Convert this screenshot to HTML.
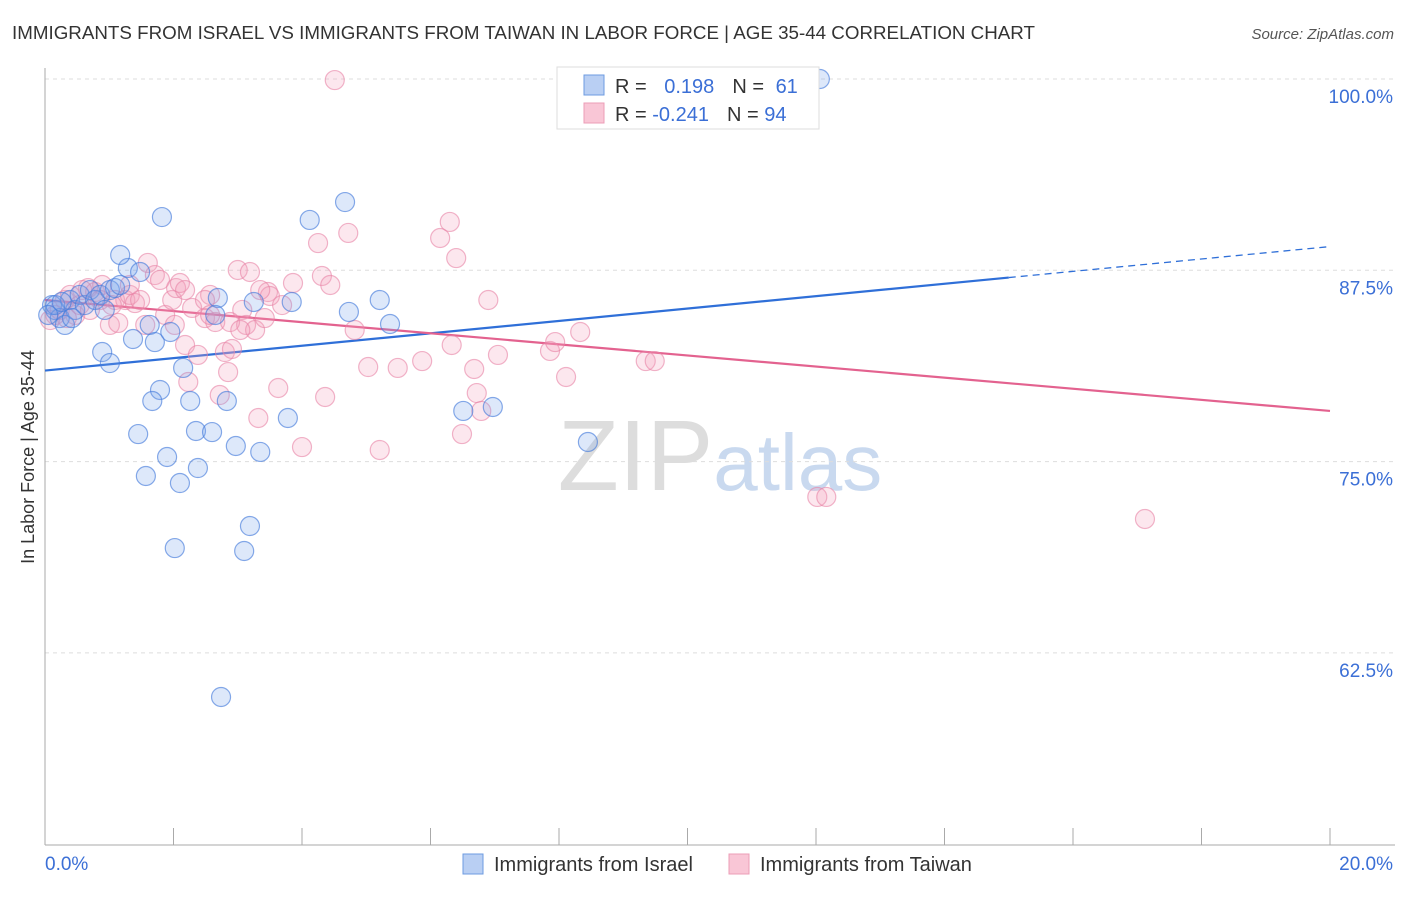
<!DOCTYPE html>
<html><head><meta charset="utf-8"><style>
body{margin:0;background:#fff;font-family:"Liberation Sans",sans-serif}
svg text{font-family:"Liberation Sans",sans-serif}
</style></head><body>
<svg id="chart" width="1406" height="892" xmlns="http://www.w3.org/2000/svg">
<text x="12" y="39" font-size="18" fill="#333" textLength="1023" lengthAdjust="spacingAndGlyphs">IMMIGRANTS FROM ISRAEL VS IMMIGRANTS FROM TAIWAN IN LABOR FORCE | AGE 35-44 CORRELATION CHART</text>
<text x="1394" y="39" font-size="15" fill="#555" text-anchor="end" font-style="italic">Source: ZipAtlas.com</text>
<text x="720" y="490" font-size="100" text-anchor="middle" fill="#ddd" font-family="Liberation Serif">ZIP<tspan fill="#c9d9ef" font-family="Liberation Sans" font-size="80">atlas</tspan></text>
<text transform="translate(34,457) rotate(-90)" font-size="18" fill="#333" text-anchor="middle">In Labor Force | Age 35-44</text>
<g id="grid"></g><g id="axes"></g><g id="lines"></g><g id="pts"></g>
<g>
<rect x="557" y="67" width="262" height="62" fill="#fff" stroke="#ddd"/>
<rect x="584" y="75" width="20" height="20" fill="#b9cff3" stroke="#6d9be0"/>
<rect x="584" y="103" width="20" height="20" fill="#f9c6d6" stroke="#ec9db7"/>
<text x="615" y="93" font-size="20" fill="#333">R = <tspan fill="#3b6fd6" dx="12">0.198</tspan><tspan fill="#333" dx="18">N = </tspan><tspan fill="#3b6fd6" dx="6">61</tspan></text>
<text x="615" y="121" font-size="20" fill="#333">R = <tspan fill="#3b6fd6">-0.241</tspan><tspan fill="#333" dx="18">N = </tspan><tspan fill="#3b6fd6">94</tspan></text>
</g>
<g>
<rect x="463" y="854" width="20" height="20" fill="#b9cff3" stroke="#6d9be0"/>
<text x="494" y="871" font-size="20" fill="#333">Immigrants from Israel</text>
<rect x="729" y="854" width="20" height="20" fill="#f9c6d6" stroke="#ec9db7"/>
<text x="760" y="871" font-size="20" fill="#333">Immigrants from Taiwan</text>
</g>
</svg>
<script>
const israelX=[.11,.16,.23,.31,.39,.47,.54,.62,.70,.78,.86,.93,1.01,1.09,1.17,1.29,1.17,1.48,1.82,.89,1.01,1.37,1.63,1.71,1.95,2.15,1.79,1.67,2.26,1.45,2.35,2.6,1.9,1.57,2.1,2.38,2.83,2.02,3.19,3.1,2.74,2.97,3.35,3.78,3.25,3.84,2.69,2.65,4.12,4.67,4.73,5.21,5.37,6.51,6.97,8.45,12.06,.16,.05,.26,.42];
const israelY=[85.23,84.9,84.38,83.93,85.56,84.91,85.89,85.23,86.21,85.56,85.89,84.91,86.21,86.34,86.54,87.65,88.5,87.39,90.98,82.16,81.44,83.01,83.93,82.81,83.47,81.12,79.68,78.96,78.96,76.8,77.0,76.93,75.3,74.06,73.6,74.58,78.96,69.35,70.79,69.16,59.62,76.02,75.63,77.85,85.43,85.43,85.69,84.58,90.79,91.96,84.78,85.56,83.99,78.31,78.57,76.28,100,85.23,84.58,85.43,84.38];
const taiwanX=[.08,.16,.23,.31,.39,.47,.54,.67,.78,.89,1.01,1.09,1.25,1.32,1.4,1.48,1.14,1.6,1.71,1.79,1.87,1.98,2.04,2.1,2.18,2.23,2.29,2.38,2.49,2.57,2.65,2.72,2.8,2.85,2.91,3.0,3.07,3.13,3.19,3.27,3.32,3.42,3.47,3.5,3.63,3.69,3.86,4.0,4.25,4.31,4.44,4.36,4.51,4.72,4.82,5.03,5.21,5.49,5.87,6.15,6.3,6.33,6.4,6.49,6.68,6.72,6.79,6.9,7.05,7.86,7.94,8.11,8.33,9.35,9.49,11.8,12.02,12.16,17.12,.86,.7,.58,.34,1.56,2.49,2.88,2.02,1.04,1.32,2.57,3.04,3.35,2.18];
const taiwanY=[84.25,84.58,84.91,85.56,85.89,84.58,85.23,86.34,86.08,86.54,83.93,85.56,85.56,85.89,85.36,85.56,84.06,87.98,87.19,86.87,84.58,85.56,86.34,86.67,82.62,80.2,85.04,81.97,84.38,85.89,84.12,79.35,82.16,80.85,82.36,87.52,84.91,83.93,87.39,83.6,77.85,84.38,86.08,85.82,79.81,85.23,86.67,75.95,89.28,87.13,86.54,79.22,99.93,89.94,83.6,81.18,75.76,81.12,81.57,89.61,90.66,82.62,88.3,76.8,81.05,79.48,78.31,85.56,81.97,82.23,82.81,80.53,83.47,81.57,81.57,100,72.69,72.69,71.25,85.56,84.91,86.21,84.38,83.93,85.56,84.12,83.93,85.23,86.54,84.58,83.6,86.21,86.21];
const yTicks=[100,87.5,75,62.5];
const yTickLabels=["100.0%","87.5%","75.0%","62.5%"];
const xTickLabels=["0.0%","20.0%"];
const trendIsrael=[80.95,0.405];
const trendTaiwan=[85.56,-0.3625];
const NS="http://www.w3.org/2000/svg";
const sx=v=>45+v/20*1285, sy=v=>79+(100-v)/12.5*191.3;
function mk(t,a,p){const e=document.createElementNS(NS,t);for(const k in a)e.setAttribute(k,a[k]);document.getElementById(p).appendChild(e);return e;}
yTicks.forEach((t,i)=>{
 const g=mk('line',{x1:45,x2:1395,y1:sy(t),y2:sy(t),stroke:'#ddd','stroke-dasharray':'4,4'},'grid');
 
 
 const l=mk('text',{x:1393,y:sy(t)+24,'font-size':19,fill:'#3b6fd6','text-anchor':'end'},'axes');l.textContent=yTickLabels[i];
 
 
});
mk('line',{x1:45,x2:45,y1:68,y2:845,stroke:'#aaa'},'axes');
mk('line',{x1:45,x2:1395,y1:845,y2:845,stroke:'#aaa'},'axes');
for(let k=1;k<=10;k++){const t=mk('line',{x1:sx(k*2),x2:sx(k*2),y1:828,y2:845,stroke:'#aaa'},'axes');
 
 }
[[0,'start',45],[1,'end',1393]].forEach(([i,a,x])=>{const l=mk('text',{x:x,y:870,'font-size':19,fill:'#3b6fd6','text-anchor':a},'axes');l.textContent=xTickLabels[i];
 
 });
const ty=(tr,x)=>tr[0]+tr[1]*x;
let bl=mk('line',{x1:sx(0),y1:sy(ty(trendIsrael,0)),x2:sx(15),y2:sy(ty(trendIsrael,15)),stroke:'#2f6fd8','stroke-width':2.2},'lines');


let bd=mk('line',{x1:sx(15),y1:sy(ty(trendIsrael,15)),x2:sx(20),y2:sy(ty(trendIsrael,20)),stroke:'#2f6fd8','stroke-width':1.3,'stroke-dasharray':'7,5'},'lines');


let pl=mk('line',{x1:sx(0),y1:sy(ty(trendTaiwan,0)),x2:sx(20),y2:sy(ty(trendTaiwan,20)),stroke:'#e3628f','stroke-width':2.2},'lines');


taiwanX.forEach((x,i)=>{const c=mk('circle',{cx:sx(x),cy:sy(taiwanY[i]),r:9.5,fill:'rgba(244,160,188,0.25)',stroke:'rgba(232,130,165,0.6)','stroke-width':1.2},'pts');
 
 });
israelX.forEach((x,i)=>{const c=mk('circle',{cx:sx(x),cy:sy(israelY[i]),r:9.5,fill:'rgba(120,165,235,0.25)',stroke:'rgba(70,125,220,0.65)','stroke-width':1.2},'pts');
 
 });
</script>
</body></html>
